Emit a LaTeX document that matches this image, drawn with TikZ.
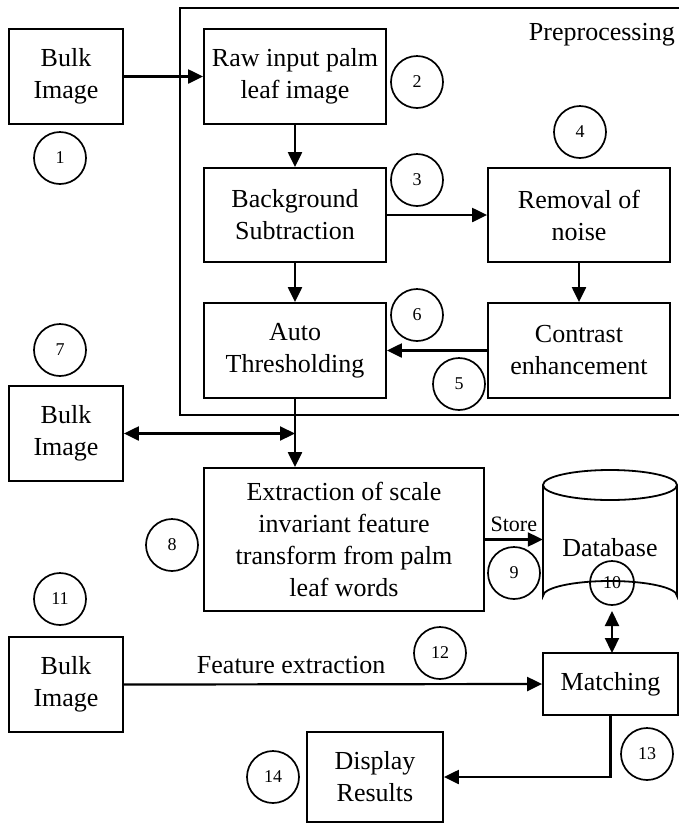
\documentclass[tikz,border=0pt]{standalone}
\usepackage{fontspec}
\setmainfont{Liberation Serif}
\usetikzlibrary{arrows.meta}
\tikzset{
  box/.style={draw, line width=1.8pt, inner sep=2pt, align=center,
    font=\fontsize{26}{32}\selectfont},
  num/.style={draw, circle, line width=1.7pt, inner sep=0pt, minimum size=52pt,
    font=\fontsize{18}{20}\selectfont},
  tip/.tip={Triangle[length=15pt,width=14pt]},
  conn/.style={line width=2.2pt, -tip},
  dconn/.style={line width=2.2pt, tip-tip},
  lbl/.style={font=\fontsize{26}{32}\selectfont, inner sep=1pt}
}
\begin{document}
\begin{tikzpicture}[x=1pt,y=-1pt]
\clip (0,0) rectangle (679,823);
% preprocessing frame
\node[draw, line width=2pt, minimum width=500pt, minimum height=407pt, inner sep=0pt] (pre) at (430,211.5) {};
\node[lbl, anchor=north east] (prelbl) at (676,22) {Preprocessing};
% boxes
\node[box, minimum width=114pt, minimum height=95pt] (bulk1) at (66,76.5) {Bulk\\Image};
\node[box, minimum width=182pt, minimum height=95pt] (raw) at (295,76.5) {Raw input palm\\leaf image};
\node[box, minimum width=182pt, minimum height=94pt] (bg) at (295,215) {Background\\Subtraction};
\node[box, minimum width=182pt, minimum height=94pt] (noise) at (579,215) {Removal of\\noise};
\node[box, minimum width=182pt, minimum height=95pt] (contrast) at (579,350.5) {Contrast\\enhancement};
\node[box, minimum width=182pt, minimum height=95pt] (auto) at (295,350.5) {Auto\\Thresholding};
\node[box, minimum width=114pt, minimum height=95pt] (bulk2) at (66,433.5) {Bulk\\Image};
\node[box, minimum width=280pt, minimum height=143pt] (ext) at (344,539.5) {Extraction of scale\\invariant feature\\transform from palm\\leaf words};
\node[box, minimum width=135pt, minimum height=62pt] (match) at (610.5,684) {Matching};
\node[box, minimum width=114pt, minimum height=95pt] (bulk3) at (66,684.5) {Bulk\\Image};
\node[box, minimum width=136pt, minimum height=90pt] (disp) at (375,777) {Display\\Results};
% database cylinder
\node[minimum width=134pt, minimum height=141pt, inner sep=0pt] (db) at (610,540.5) {};
\draw[line width=1.8pt, fill=white] (543,485) -- (543,596) arc[start angle=180, end angle=360, x radius=67pt, y radius=-15pt] -- (677,485);
\draw[line width=1.8pt] (610,485) ellipse[x radius=67pt, y radius=15pt];
\node[lbl] (dblbl) at (610,548) {Database};
% numbered circles
\node[num] (c1) at (60,158) {1};
\node[num] (c2) at (417,82) {2};
\node[num] (c3) at (417,180) {3};
\node[num] (c4) at (580,132) {4};
\node[num] (c5) at (459,384) {5};
\node[num] (c6) at (417,315) {6};
\node[num] (c7) at (60,350) {7};
\node[num] (c8) at (172,545) {8};
\node[num] (c9) at (514,573) {9};
\node[num, minimum size=44pt] (c10) at (612,583) {10};
\node[num] (c11) at (60,599) {11};
\node[num] (c12) at (440,653) {12};
\node[num] (c13) at (647,754) {13};
\node[num] (c14) at (273,777) {14};
% connectors
\draw[conn] (bulk1) -- (raw);
\draw[conn] (raw) -- (bg);
\draw[conn] (bg) -- (noise);
\draw[conn] (bg) -- (auto);
\draw[conn] (noise) -- (contrast);
\draw[conn] (contrast) -- (auto);
\coordinate (extin) at (auto.south |- ext.north);
\draw[conn] (auto.south) -- (extin);
\coordinate (j) at (auto.south |- bulk2.east);
\draw[dconn] (bulk2.east) -- (j);
\coordinate (dbin) at (ext.east -| db.west);
\draw[conn] (ext.east) -- node[above, font=\fontsize{22}{24}\selectfont, inner sep=7pt] {Store} (dbin);
\coordinate (dbout) at (612,611);
\coordinate (matchin) at (612,653);
\draw[dconn] (dbout) -- (matchin);
\draw[conn] (bulk3.east) -- node[pos=0.4, above, lbl, inner sep=9pt] {Feature extraction} (match.west);
\draw[conn] (match.south) |- (disp.east);
\end{tikzpicture}
\end{document}
